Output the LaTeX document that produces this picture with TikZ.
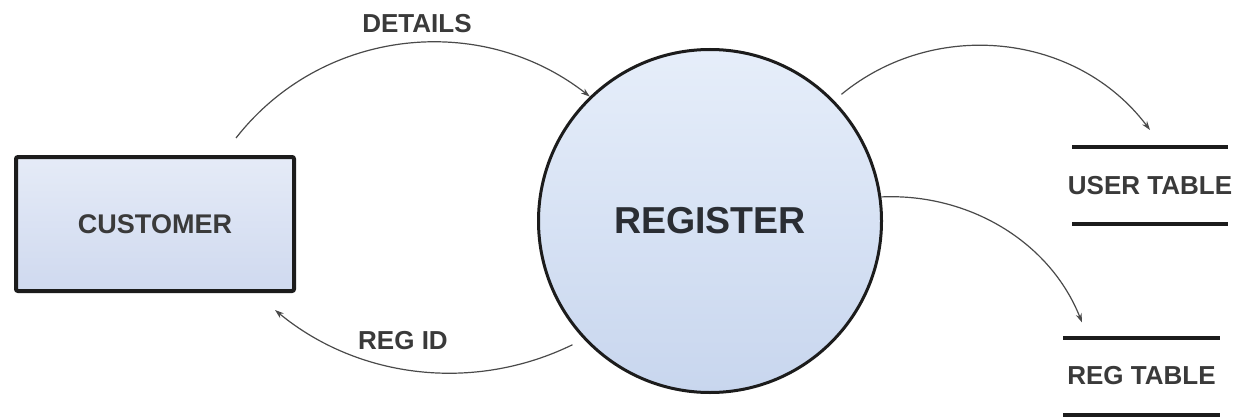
\documentclass[tikz,border=0pt]{standalone}
\usepackage{fontspec}
\setmainfont{Liberation Sans}
\usetikzlibrary{arrows.meta}
\definecolor{procTop}{HTML}{E6EEFA}
\definecolor{procBot}{HTML}{C8D6EE}
\definecolor{entTop}{HTML}{E5EBF7}
\definecolor{entBot}{HTML}{CFD9EF}
\definecolor{edgeC}{HTML}{1C1C1C}
\definecolor{flowC}{HTML}{4A4A4A}
\definecolor{txtC}{HTML}{3A3A3A}
\definecolor{txtD}{HTML}{2A2D33}
\begin{document}
\begin{tikzpicture}[x=1pt,y=-1pt,
  entity/.style={draw=edgeC, line width=4pt, rounded corners=2pt, top color=entTop, bottom color=entBot, minimum width=278pt, minimum height=134pt, inner sep=0pt, font=\bfseries\fontsize{27}{30}\selectfont, text=txtC},
  process/.style={circle, draw=edgeC, line width=3pt, top color=procTop, bottom color=procBot, minimum size=343pt, inner sep=0pt, font=\bfseries\fontsize{37.5}{40}\selectfont, text=txtD},
  store/.style={inner sep=0pt, outer sep=0pt, minimum height=77pt, font=\bfseries\fontsize{26}{30}\selectfont, text=txtC},
  storeline/.style={draw=edgeC, line width=4pt},
  flow/.style={draw=flowC, line width=1.2pt, -{Stealth[length=9pt,width=6pt]}},
  flowlabel/.style={inner sep=0pt, font=\bfseries\fontsize{26}{30}\selectfont, text=txtC}]
\useasboundingbox[fill=white] (0,0) rectangle (1246,417);

\node[entity] (cust) at (155,224) {CUSTOMER};
\node[process] (reg) at (710,221) {REGISTER};
\node[store] (ut) at (1150,185.5) {USER TABLE};
\node[store] (rt) at (1141.5,376) {REG TABLE};

\draw[storeline] ([xshift=-78pt]ut.north) -- ([xshift=78pt]ut.north);
\draw[storeline] ([xshift=-78pt]ut.south) -- ([xshift=78pt]ut.south);
\draw[storeline] ([xshift=-78.5pt]rt.north) -- ([xshift=78.5pt]rt.north);
\draw[storeline] ([xshift=-78.5pt]rt.south) -- ([xshift=78.5pt]rt.south);

\node[flowlabel] (lDetails) at (417,24) {DETAILS};
\node[flowlabel] (lRegid) at (403,341) {REG ID};

\coordinate (dA) at ([xshift=81pt,yshift=17pt]cust.north);
\draw[flow] (dA) to[out=52,in=142] (reg.134);
\coordinate (rA) at ([xshift=-9pt,yshift=-8pt]reg.222);
\coordinate (rB) at ([xshift=-21pt,yshift=-17pt]cust.south east);
\draw[flow] (rA) to[out=206,in=320.5,looseness=0.93] (rB);
\coordinate (uA) at ([xshift=7pt,yshift=6.5pt]reg.44.6);
\coordinate (uB) at ([yshift=17pt]ut.north);
\draw[flow] (uA) to[out=39.4,in=127] (uB);
\coordinate (tB) at ([xshift=-59.5pt,yshift=15pt]rt.north);
\draw[flow] (reg.8.5) to[out=2.6,in=111.6,looseness=0.94] (tB);
\end{tikzpicture}
\end{document}
